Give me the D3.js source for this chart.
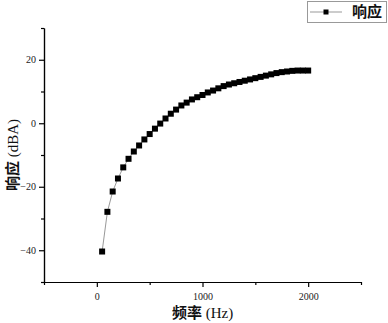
<!DOCTYPE html>
<html><head><meta charset="utf-8">
<script src="https://cdn.jsdelivr.net/npm/d3@7"></script>
<style>body{margin:0;background:#fff}svg{display:block}</style>
</head><body>
<svg id="c" width="388" height="323"></svg>
<script>
const freq = [50,100,150,200,250,300,350,400,450,500,550,600,650,700,750,800,850,900,950,1000,
  1050,1100,1150,1200,1250,1300,1350,1400,1450,1500,1550,1600,1650,1700,1750,1800,1850,1900,1950,2000];
const resp = [-40.4,-27.9,-21.5,-17.4,-13.9,-11.2,-8.9,-7.0,-5.1,-3.4,-1.7,-0.1,1.5,3.0,4.3,5.6,6.5,7.5,8.2,8.9,
  9.7,10.3,11.0,11.7,12.2,12.6,13.0,13.4,13.8,14.2,14.6,15.0,15.4,15.8,16.1,16.3,16.5,16.6,16.6,16.6];
const xTicks = [0,1000,2000];
const xMinor = [-500,500,1500,2500];
const yTicks = [-40,-20,0,20];
const yMinor = [-50,-30,-10,10,30];
const seriesName = "响应";
const xTitle = ["频率", " (Hz)"];
const yTitle = ["响应", " (dBA)"];

const svg = d3.select("#c");
const L=44, R=361, T=28, B=282;
const x = d3.scaleLinear().domain([-500,2500]).range([L,R]);
const y = d3.scaleLinear().domain([-50,30]).range([B,T]);
const numFont = "Liberation Serif, DejaVu Serif, serif";
const cjkFont = "Noto Sans CJK SC, serif";

// x axis
const gx = svg.append("g").attr("transform",`translate(0,${B})`);
gx.call(d3.axisBottom(x).tickValues(xTicks).tickSize(5).tickSizeOuter(0).tickFormat(d3.format("d")));
gx.append("g").call(d3.axisBottom(x).tickValues(xMinor).tickSize(3).tickSizeOuter(0).tickFormat(""));
gx.selectAll("text").style("font-family",numFont).style("font-size","10px").attr("fill","#222").attr("dy","0.95em");
gx.selectAll("path,line").attr("stroke","#000").attr("stroke-width",1.2);

// y axis
const gy = svg.append("g").attr("transform",`translate(${L},0)`);
gy.call(d3.axisLeft(y).tickValues(yTicks).tickSize(5).tickSizeOuter(0).tickFormat(d3.format("d")));
gy.append("g").call(d3.axisLeft(y).tickValues(yMinor).tickSize(3).tickSizeOuter(0).tickFormat(""));
gy.selectAll("text").style("font-family",numFont).style("font-size","10px").attr("fill","#222");
gy.selectAll("path,line").attr("stroke","#000").attr("stroke-width",1.2);

// line
const data = freq.map((f,i)=>({f, v:resp[i]}));
svg.append("path").datum(data)
  .attr("fill","none").attr("stroke","#999").attr("stroke-width",1)
  .attr("d", d3.line().x(d=>x(d.f)).y(d=>y(d.v)));
const ms = 6;
svg.append("g").selectAll("rect").data(data).join("rect")
  .attr("x",d=>x(d.f)-ms/2).attr("y",d=>y(d.v)-ms/2)
  .attr("width",ms).attr("height",ms).attr("fill","#000");

// titles
function title(sel, parts){
  sel.append("tspan").style("font-family",cjkFont).style("font-weight","bold").text(parts[0]);
  sel.append("tspan").style("font-family",numFont).style("font-weight","normal").text(parts[1]);
}
const xt = svg.append("text").attr("x",(L+R)/2).attr("y",318).attr("text-anchor","middle")
  .style("font-size","15px").attr("fill","#111");
title(xt, xTitle);
const yt = svg.append("text").attr("transform",`translate(18,${(T+B)/2}) rotate(-90)`).attr("text-anchor","middle")
  .style("font-size","15px").attr("fill","#111");
title(yt, yTitle);

// legend
const lg = svg.append("g");
lg.append("rect").attr("x",307.5).attr("y",1.5).attr("width",79).attr("height",21)
  .attr("fill","#fff").attr("stroke","#999").attr("stroke-width",1);
lg.append("line").attr("x1",310).attr("x2",342).attr("y1",12).attr("y2",12).attr("stroke","#999").attr("stroke-width",1);
lg.append("rect").attr("x",326-2.5).attr("y",12-2.5).attr("width",5).attr("height",5).attr("fill","#000");
lg.append("text").attr("x",352).attr("y",17).style("font-family",cjkFont).style("font-size","15px")
  .style("font-weight","bold").attr("fill","#111").text(seriesName);
</script>
</body></html>
